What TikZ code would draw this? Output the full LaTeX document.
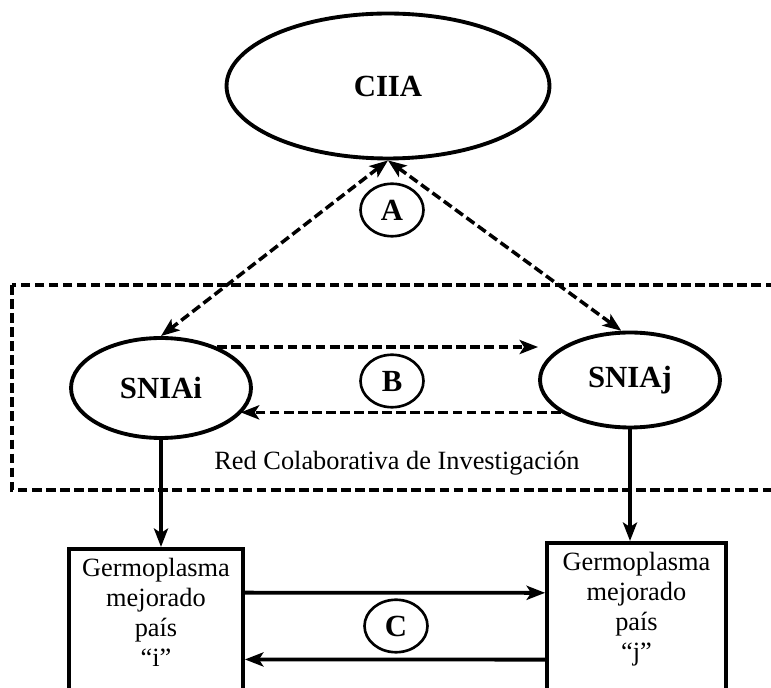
\documentclass[tikz,border=0pt]{standalone}
\usepackage{fontspec}
\setmainfont{Liberation Serif}
\usetikzlibrary{shapes.geometric,arrows.meta}

\begin{document}
\begin{tikzpicture}[x=0.02cm,y=-0.02cm,
	  >={Stealth[length=10.5pt,width=8pt,inset=2.5pt]},
	  elipse/.style={ellipse,draw,line width=2.2pt,inner sep=0pt,font=\fontsize{17.5}{20}\selectfont\bfseries},
	  letra/.style={ellipse,draw,line width=1.5pt,minimum width=1.26cm,minimum height=1.05cm,inner sep=0pt,font=\fontsize{17.5}{20}\selectfont\bfseries},
	  caja/.style={rectangle,draw,line width=2.2pt,anchor=north,align=center,inner ysep=5.5pt,text depth=3cm,font=\fontsize{15}{17}\selectfont},
	  trazos/.style={line width=2pt,dash pattern=on 5.5pt off 2.5pt}]
	  \clip (0,0) rectangle (771,688);
	  \draw(388,86) node[elipse,minimum width=6.46cm,minimum height=2.9cm](ciia) {CIIA};
	  \draw(161,388) node[elipse,minimum width=3.6cm,minimum height=2cm](sniai) {SNIAi};
	  \draw(630,380) node[elipse,minimum width=3.6cm,minimum height=1.9cm](sniaj) {SNIAj};
	  \foreach \n/\x/\y in {A/392/210,B/392/381,C/396/626}
	  {
		\draw(\x,\y) node[letra](\n) {\n};
	  }
	  \draw(156,547) node[caja,minimum width=3.48cm](cajai) {Germoplasma\\mejorado\\país\\“i”};
	  \draw(636.5,541) node[caja,minimum width=3.58cm](cajaj) {Germoplasma\\mejorado\\país\\“j”};
	  % red colaborativa
	  \draw[trazos,line width=2.2pt](12,285) rectangle (800,490);
	  \draw(397,470) node[anchor=base,font=\fontsize{15}{17}\selectfont](red) {Red Colaborativa de Investigación};
	  \draw[trazos,<->](ciia.south) -- (sniai.north);
	  \draw[trazos,<->](ciia.south) -- (sniaj.100);
	  \draw[trazos,->](sniai.36) -- (sniai.36 -| sniaj.west);
	  \draw[trazos,->](sniaj.205) -- (sniaj.205 -| sniai.-18);
	  \draw[line width=2.2pt,->](sniai.south) -- (sniai.south |- cajai.north);
	  \draw[line width=2.2pt,->](sniaj.south) -- (sniaj.south |- cajaj.north);
	  \draw[line width=2.2pt,->]([yshift=-26pt]cajai.north east) -- ([yshift=-29.5pt]cajaj.north west);
	  \draw[line width=2.2pt,->]([yshift=-67.5pt]cajaj.north west) -- ([yshift=-64pt]cajai.north east);
	\end{tikzpicture}
\end{document}
